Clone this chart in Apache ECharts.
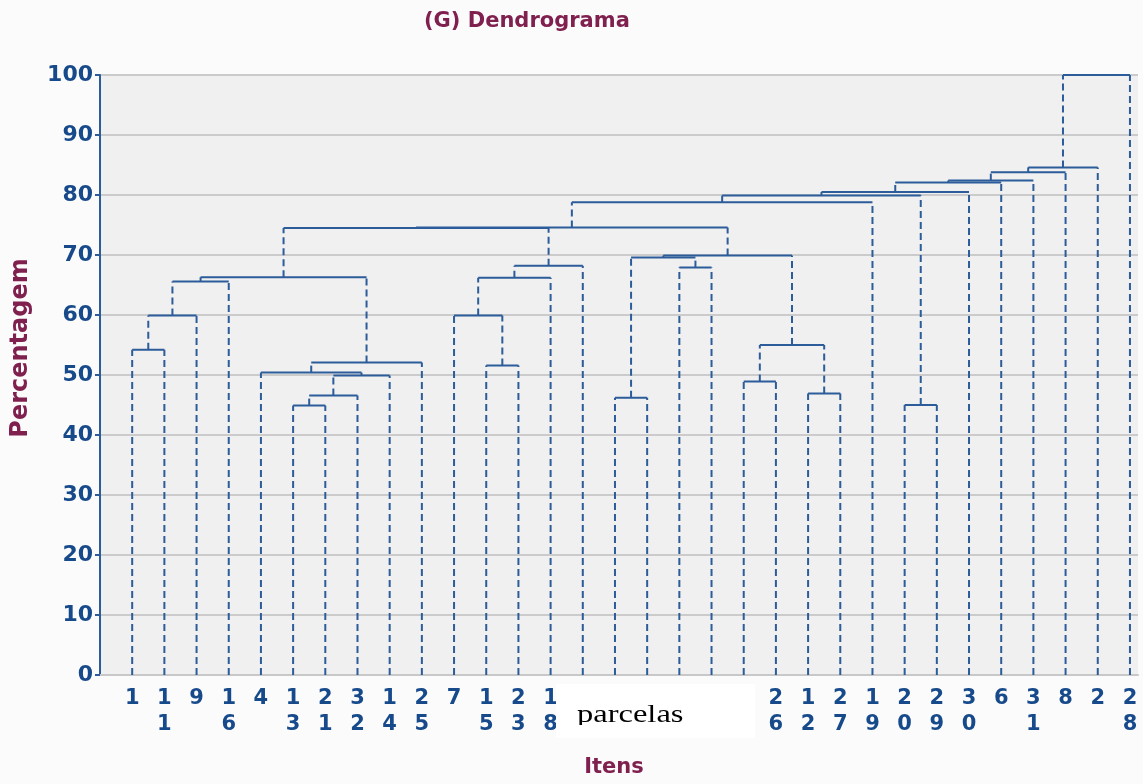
<!DOCTYPE html>
<html>
<head>
<meta charset="utf-8">
<title>(G) Dendrograma</title>
<script src="https://cdn.jsdelivr.net/npm/echarts/dist/echarts.min.js"></script>
<style>
  html, body { margin: 0; padding: 0; background: #fbfbfb; }
  #chart { width: 1143px; height: 784px; }
</style>
</head>
<body>
<div id="chart"></div>
<script>
// leaves, in the order they stand on the axis
const leafLabels = ['1', '11', '9', '16', '4', '13', '21', '32', '14', '25', '7', '15', '23', '18',
  '3', '5', '10', '17', '22', '24',
  '26', '12', '27', '19', '20', '29', '30', '6', '31', '8', '2', '28']

// merges: node 32 is the first merge, 33 the second, ...
const joinLeft = [0, 32, 33, 5, 35, 36, 4, 38, 34, 11, 10, 42, 43, 40, 15, 17, 46, 19, 21, 49,
  48, 45, 53, 24, 54, 56, 57, 58, 59, 60, 61]
const joinRight = [1, 2, 3, 6, 7, 8, 37, 9, 39, 12, 41, 13, 14, 44, 16, 18, 47, 20, 22, 50,
  51, 52, 23, 25, 55, 26, 27, 28, 29, 30, 31]
const joinHeight = [54.2, 59.9, 65.6, 44.9, 46.6, 49.9, 50.4, 52.1, 66.3, 51.6, 59.9, 66.2, 68.2, 74.5,
  46.2, 67.9, 69.6, 48.9, 46.9, 55.0, 69.9, 74.6, 78.8, 45.0, 79.9, 80.5, 82.1, 82.4, 83.8, 84.6, 100]

const blue = '#2c5c99'
const labelBlue = '#174a8b'
const maroon = '#80204f'

// x position and height of every node
const nodeX = leafLabels.map((d, i) => i)
const nodeH = leafLabels.map(() => 0)
const rows = []
for (let i = 0; i < joinLeft.length; i++) {
  const a = joinLeft[i]
  const b = joinRight[i]
  rows.push([nodeX[a], nodeH[a], nodeX[b], nodeH[b], joinHeight[i]])
  nodeX.push((nodeX[a] + nodeX[b]) / 2)
  nodeH.push(joinHeight[i])
}

const chart = echarts.init(document.getElementById('chart'))
chart.setOption({
  animation: false,
  backgroundColor: '#fbfbfb',
  title: {
    text: '(G) Dendrograma',
    left: 419,
    top: 6,
    textStyle: { color: maroon, fontFamily: 'DejaVu Sans', fontWeight: 'bold', fontSize: 21 }
  },
  grid: {
    left: 100,
    right: 5,
    top: 75,
    bottom: 109,
    show: true,
    backgroundColor: '#f0f0f0',
    borderWidth: 0
  },
  xAxis: {
    type: 'value',
    min: -1,
    max: 31.25,
    interval: 1,
    name: 'Itens',
    nameLocation: 'middle',
    nameGap: 82,
    nameTextStyle: { color: maroon, fontFamily: 'DejaVu Sans', fontWeight: 'bold', fontSize: 21, padding: [0, 10, 0, 0] },
    axisLine: { show: true, onZero: false, lineStyle: { color: '#c8c8c8', width: 2 } },
    axisTick: { show: false },
    splitLine: { show: false },
    axisLabel: {
      margin: 11,
      color: labelBlue,
      fontFamily: 'DejaVu Sans',
      fontWeight: 'bold',
      fontSize: 21,
      lineHeight: 26,
      showMinLabel: true,
      showMaxLabel: true,
      formatter(v) {
        const s = leafLabels[v]
        return s ? s.split('').join('\n') : ''
      }
    }
  },
  yAxis: {
    type: 'value',
    min: 0,
    max: 100,
    interval: 10,
    name: 'Percentagem',
    nameLocation: 'middle',
    nameRotate: 90,
    nameGap: 67,
    nameTextStyle: { color: maroon, fontFamily: 'DejaVu Sans', fontWeight: 'bold', fontSize: 24, padding: [0, 0, 0, 54] },
    axisLine: { show: true, onZero: false, lineStyle: { color: blue, width: 2 } },
    axisTick: { show: true, length: 5, lineStyle: { color: blue, width: 2 } },
    splitLine: { show: true, lineStyle: { color: '#cbcbcb', width: 2 } },
    axisLabel: {
      margin: 7,
      color: labelBlue,
      fontFamily: 'DejaVu Sans',
      fontWeight: 'bold',
      fontSize: 22,
      padding: [0, 0, 14, 0]
    }
  },
  series: [{
    type: 'custom',
    data: rows,
    encode: { x: [0, 2], y: [1, 3, 4] },
    renderItem(params, api) {
      const h = api.value(4)
      const a0 = api.coord([api.value(0), api.value(1)])
      const a1 = api.coord([api.value(0), h])
      const b0 = api.coord([api.value(2), api.value(3)])
      const b1 = api.coord([api.value(2), h])
      const dashed = { stroke: blue, lineWidth: 2, lineDash: [7, 4] }
      return {
        type: 'group',
        children: [
          { type: 'line', shape: { x1: a0[0], y1: a0[1], x2: a1[0], y2: a1[1] }, style: dashed },
          { type: 'line', shape: { x1: b0[0], y1: b0[1], x2: b1[0], y2: b1[1] }, style: dashed },
          { type: 'line', shape: { x1: a1[0], y1: a1[1], x2: b1[0], y2: b1[1] }, style: { stroke: blue, lineWidth: 2 } }
        ]
      }
    }
  }],
  graphic: [
    // pasted text box over some of the labels
    { type: 'rect', left: 556, top: 684, shape: { width: 199, height: 54 }, style: { fill: '#ffffff' }, z: 100 },
    {
      type: 'text', x: 577, y: 703, scaleX: 1.3, z: 101,
      style: { text: 'parcelas', fill: '#000000', font: '25px "Liberation Serif"' }
    },
    { type: 'rect', left: 570, top: 725, shape: { width: 120, height: 12 }, style: { fill: '#ffffff' }, z: 102 }
  ]
})
</script>
</body>
</html>
